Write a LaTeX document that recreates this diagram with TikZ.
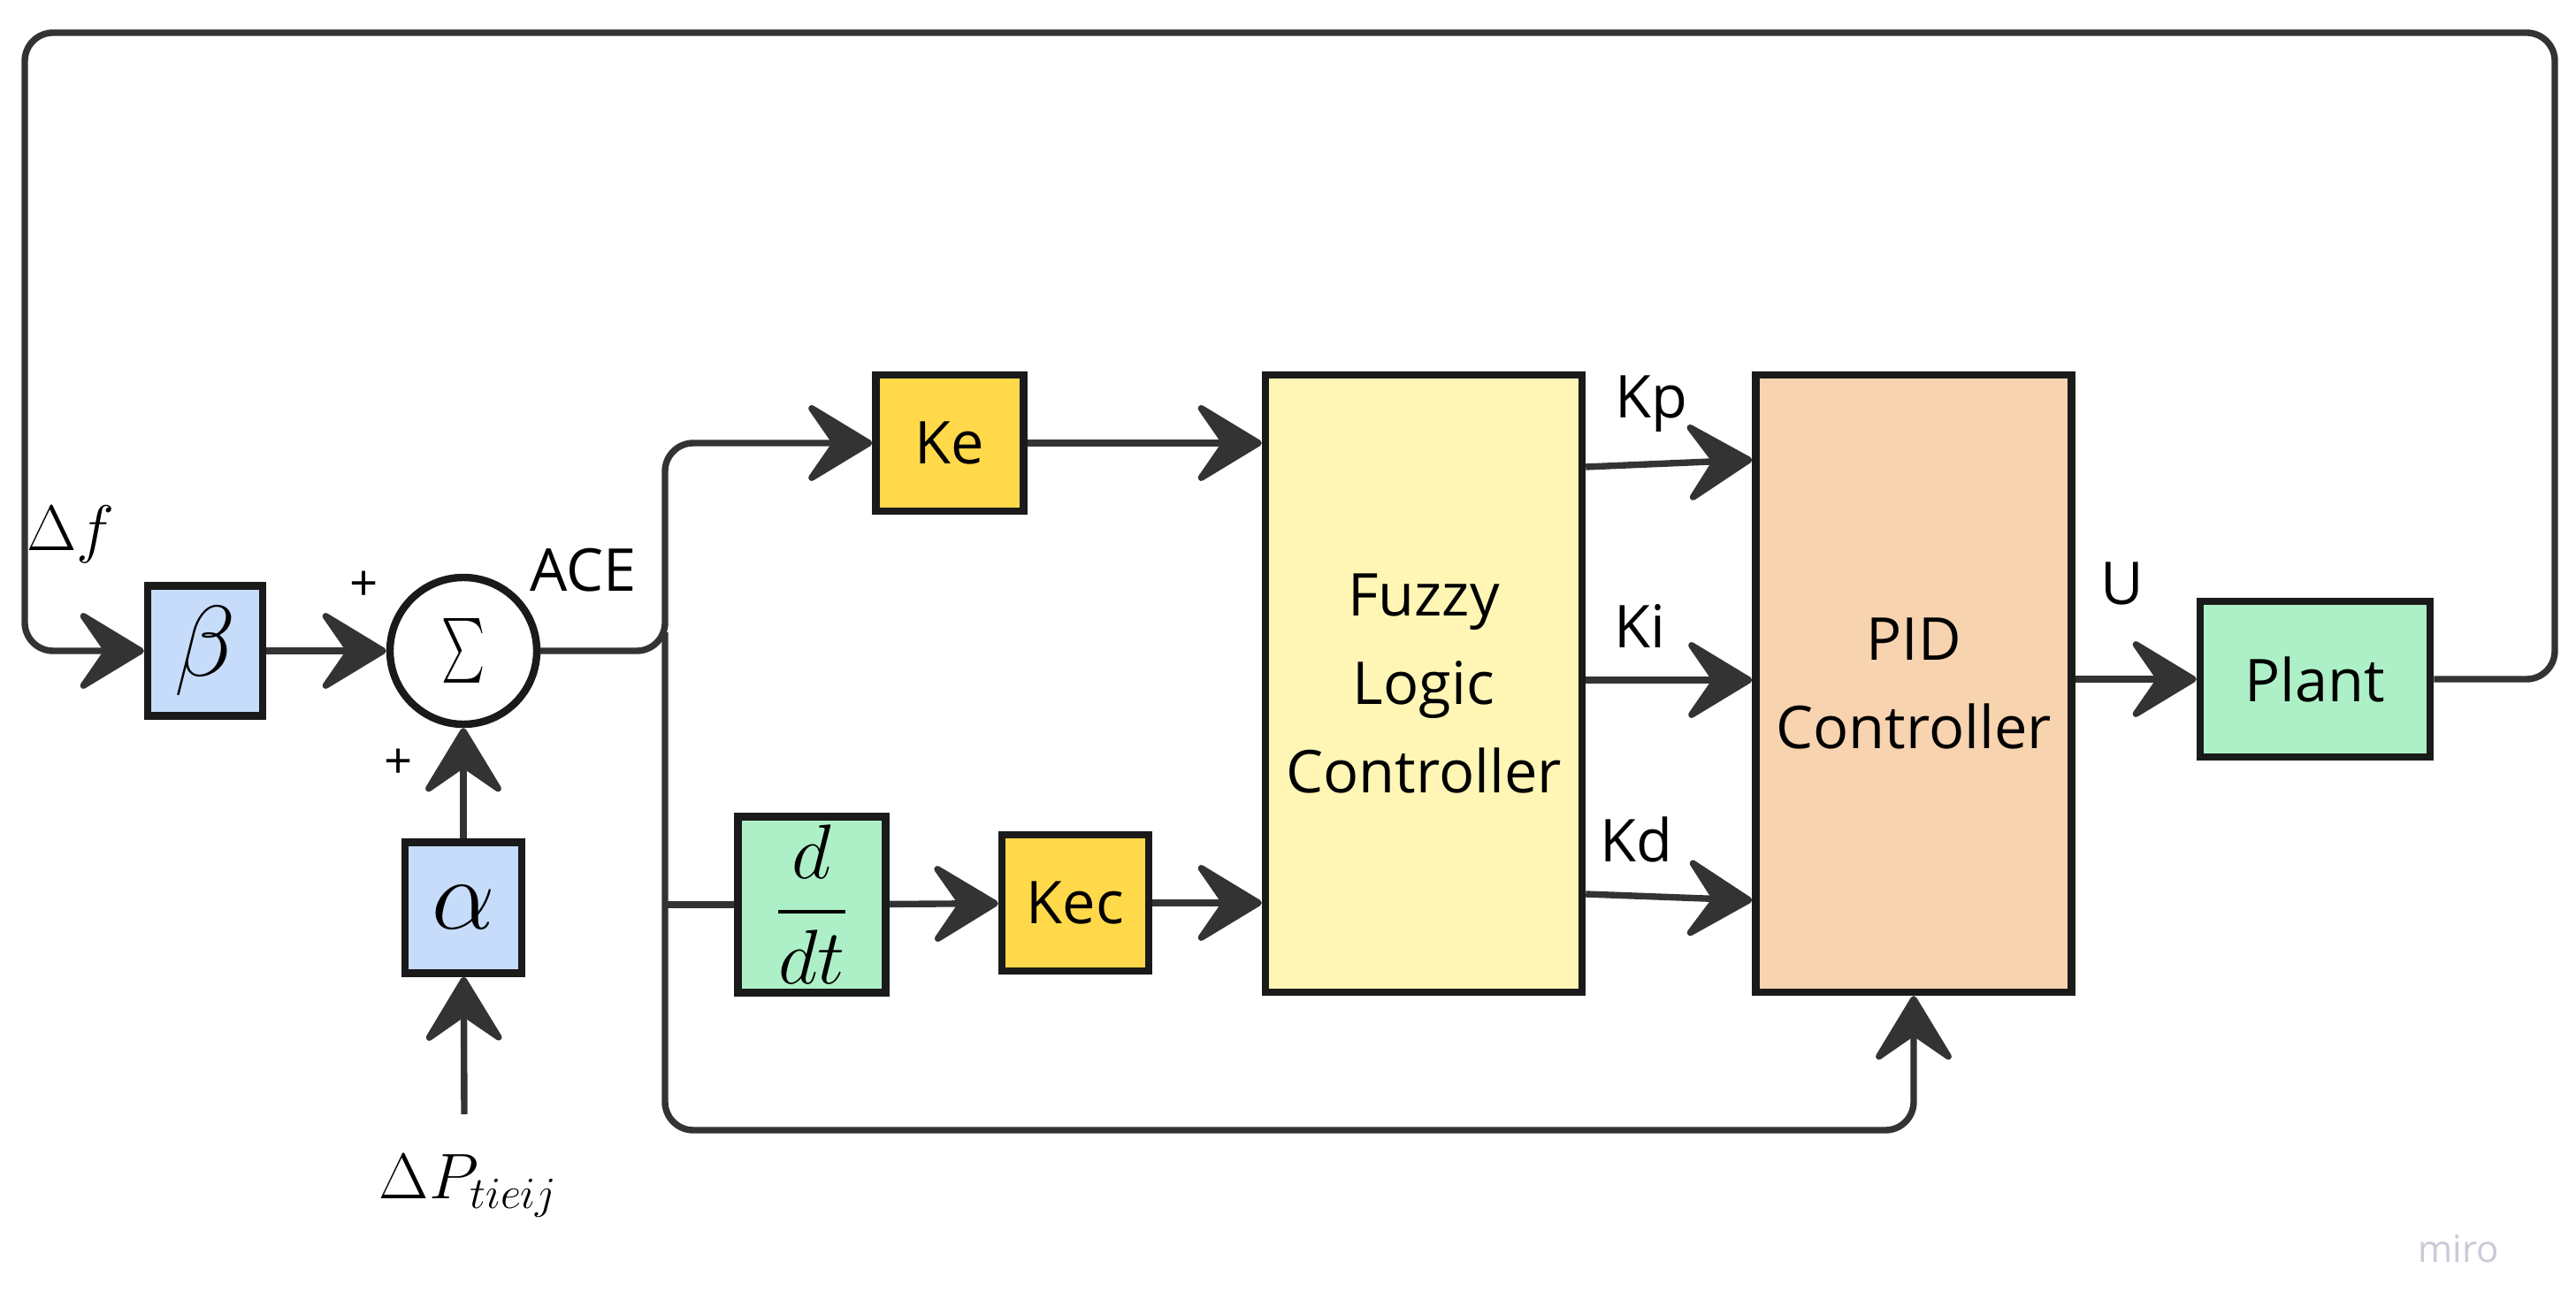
\documentclass[tikz,border=0pt]{standalone}
\usepackage{fontspec}
\setmainfont{Open Sans}
\usepackage{amsmath}
\usetikzlibrary{arrows.meta, positioning}
\definecolor{wirecol}{HTML}{333333}
\definecolor{edgecol}{HTML}{1A1A1A}
\definecolor{gainblue}{HTML}{C6DCFA}
\definecolor{gainyel}{HTML}{FFD94A}
\definecolor{mint}{HTML}{ADF0C7}
\definecolor{fuzzyel}{HTML}{FFF6B6}
\definecolor{peach}{HTML}{F8D3AF}
\definecolor{wmark}{HTML}{CACAD8}
\tikzset{
  blk/.style={rectangle, draw=edgecol, line width=2.4pt, inner sep=0pt,
              align=center, font=\fontsize{19}{28.5}\selectfont},
  sumc/.style={circle, draw=edgecol, line width=2.4pt, fill=white,
               inner sep=0pt, minimum size=1.66cm},
  wire/.style={draw=wirecol, line width=2.1pt, rounded corners=0.32cm},
  arr/.style={wire, -{Stealth[length=24pt, width=29pt, inset=10pt, round]}},
  lbl/.style={inner sep=0pt, font=\fontsize{19}{22}\selectfont},
  mlbl/.style={inner sep=0pt, font=\fontsize{20}{20}\selectfont},
}
\begin{document}
\begin{tikzpicture}
  \useasboundingbox (0,0) rectangle (29.13,14.60);
  % blocks
  \node[blk, fill=gainblue, minimum width=1.30cm, minimum height=1.47cm] (beta) at (2.32,7.24)
       {\fontsize{24}{24}\selectfont\scalebox{1.3}{$\beta$}};
  \node[sumc] (sum) at (5.24,7.24)
       {\fontsize{22}{22}\selectfont\scalebox{0.64}[1]{$\textstyle\sum$}};
  \node[blk, fill=gainblue, minimum width=1.32cm, minimum height=1.48cm,
        below=1.25cm of sum] (alpha) {\fontsize{24}{24}\selectfont\scalebox{1.3}{$\alpha$}};
  \node[blk, fill=gainyel, minimum width=1.67cm, minimum height=1.54cm] (ke) at (10.74,9.59) {Ke};
  \node[blk, fill=mint, minimum width=1.67cm, minimum height=1.99cm] (ddt) at (9.18,4.37)
       {\fontsize{24}{24}\selectfont$\dfrac{d}{dt}$};
  \node[blk, fill=gainyel, minimum width=1.66cm, minimum height=1.54cm] (kec) at (12.16,4.39) {Kec};
  \node[blk, fill=fuzzyel, minimum width=3.58cm, minimum height=6.98cm] (flc) at (16.10,6.87)
       {Fuzzy\\Logic\\Controller};
  \node[blk, fill=peach, minimum width=3.57cm, minimum height=6.98cm] (pid) at (21.64,6.87)
       {PID\\Controller};
  \node[blk, fill=mint, minimum width=2.60cm, minimum height=1.76cm] (plant) at (26.18,6.92) {Plant};
  \coordinate (br) at (7.52,7.24);
  \coordinate (brdown) at (7.52,7.45);
  \coordinate (dp) at (5.25,2.00);
  % labels
  \node[mlbl] (dflbl) at (0.80,8.56) {$\Delta f$};
  \node[mlbl, font=\fontsize{21}{21}\selectfont] (dplbl) at (5.30,1.19) {$\Delta P_{tieij}$};
  \node[lbl] (acelbl) at (6.60,8.15) {ACE};
  \node[lbl, font=\fontsize{16}{16}\selectfont] (plus1) at (4.12,7.97) {+};
  \node[lbl, font=\fontsize{16}{16}\selectfont] (plus2) at (4.51,5.96) {+};
  \node[lbl] (kplbl) at (18.67,10.03) {Kp};
  \node[lbl] (kilbl) at (18.54,7.52) {Ki};
  \node[lbl] (kdlbl) at (18.50,5.11) {Kd};
  \node[lbl] (ulbl) at (24.00,8.00) {U};
  \node[inner sep=0pt, text=wmark, font=\fontsize{12}{12}\selectfont] (miro) at (27.80,0.48) {miro};
  % connectors
  \draw[arr] (beta) -- (sum);
  \draw[arr] (dp) -- (alpha);
  \draw[arr] (alpha) -- (sum);
  \draw[arr] (sum.east) -- (br) -- (br |- ke) -- (ke.west);
  \draw[wire] (br |- ddt) -- (ddt.west);
  \draw[arr] (ddt) -- (kec);
  \draw[arr] (ke.east) -- (flc.west |- ke);
  \draw[arr] (kec.east) -- (flc.west |- kec);
  \draw[arr] (flc.east |- 0,9.32) -- (pid.west |- 0,9.40);
  \draw[arr] (flc.east |- 0,6.91) -- (pid.west |- 0,6.91);
  \draw[arr] (flc.east |- 0,4.49) -- (pid.west |- 0,4.42);
  \draw[arr] (brdown) -- (brdown |- 0,1.82) -| (pid.south);
  \draw[arr] (pid.east |- plant) -- (plant.west);
  \draw[arr] (plant.east) -- (28.89,6.92) -- (28.89,14.23) -- (0.28,14.23)
             -- (0.28,7.24) -- (beta.west);
\end{tikzpicture}
\end{document}
